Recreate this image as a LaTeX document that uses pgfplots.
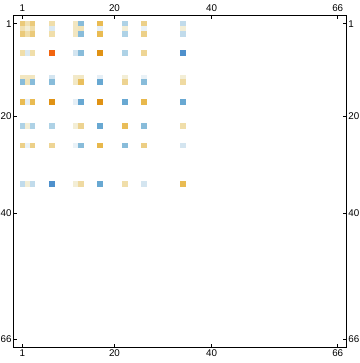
\documentclass[border=0pt]{standalone}
\usepackage{pgfplots}
\pgfplotsset{compat=1.18}
\usepackage{fontspec}
\setmainfont{Liberation Sans}
\begin{document}
\begin{tikzpicture}
\pgfplotsset{
  mybase/.style={
    scale only axis, width=333.4bp, height=332.7bp,
    xmin=-0.855, xmax=67.855, ymin=-0.8, ymax=67.8, y dir=reverse,
    xtick={1,20,40,66}, ytick={1,20,40,66},
    tick align=inside, major tick length=4bp, minor tick num=0,
    tick style={black, line width=0.7bp},
    axis line style={black, line width=0.8bp},
    tick label style={font=\fontsize{9.8bp}{10bp}\selectfont, inner sep=1.5bp},
    /pgf/number format/assume math mode=true,
  },
  colormap={mma}{
    rgb255=(78,144,204) rgb255=(104,168,210) rgb255=(136,188,218)
    rgb255=(174,210,230) rgb255=(212,229,240) rgb255=(234,242,247)
    rgb255=(255,255,255)
    rgb255=(243,238,214) rgb255=(240,222,170) rgb255=(235,204,128)
    rgb255=(232,182,70) rgb255=(224,146,20) rgb255=(242,100,14)
  }
}
\begin{axis}[mybase, name=ax, colormap name=mma, point meta min=-6, point meta max=6,
  xticklabel pos=lower, yticklabel pos=left]
\addplot[scatter, only marks, mark=square*, mark size=2.38bp,
  scatter/use mapped color={draw=mapped color, fill=mapped color},
  mark options={line width=0.15bp},
  point meta=explicit] table[meta=v] {
x y v
1 1 3.1
2 1 1.8
3 1 3.1
7 1 2
12 1 1.5
13 1 -4
17 1 3.8
22 1 -3
26 1 2.8
34 1 -2.5
1 2 1.8
2 2 1
3 2 2
7 2 -1.7
12 2 1.5
13 2 1.7
17 2 -1.2
22 2 1
26 2 -1
34 2 1
1 3 3.1
2 3 2
3 3 3.1
7 3 2
12 3 1.5
13 3 -4
17 3 3.8
22 3 -3
26 3 2.8
34 3 -2.5
1 7 2
2 7 -1.7
3 7 2
7 7 6
12 7 -2
13 7 -4
17 7 5
22 7 -3
26 7 2.5
34 7 -6
1 12 1.5
2 12 1.5
3 12 1.5
7 12 -2
12 12 1.3
13 12 1.4
17 12 -1.2
22 12 1
26 12 -1
34 12 1
1 13 -4
2 13 1.7
3 13 -4
7 13 -4
12 13 1.4
13 13 3.6
17 13 -5
22 13 2.6
26 13 -4
34 13 2.2
1 17 3.8
2 17 -1.2
3 17 3.8
7 17 5
12 17 -1.2
13 17 -5
17 17 5
22 17 -5
26 17 3.9
34 17 -5
1 22 -3
2 22 1
3 22 -3
7 22 -3
12 22 1
13 22 2.6
17 22 -5
22 22 3.7
26 22 -4
34 22 2
1 26 2.8
2 26 -1
3 26 2.8
7 26 2.5
12 26 -1
13 26 -4
17 26 3.9
22 26 -4
26 26 2.9
34 26 -2
1 34 -2.5
2 34 1
3 34 -2.5
7 34 -6
12 34 1
13 34 2.2
17 34 -5
22 34 2
26 34 -2
34 34 3.8
};
\end{axis}
\begin{axis}[mybase, xticklabel pos=upper, yticklabel pos=right,
  xticklabel style={yshift=2bp}]
\addplot[draw=none, mark=none] coordinates {(1,1)};
\end{axis}
\pgfresetboundingbox
\path[use as bounding box] ([xshift=-13.3bp,yshift=-15.3bp]ax.south west) rectangle ([xshift=13.3bp,yshift=15bp]ax.north east);
\end{tikzpicture}
\end{document}
